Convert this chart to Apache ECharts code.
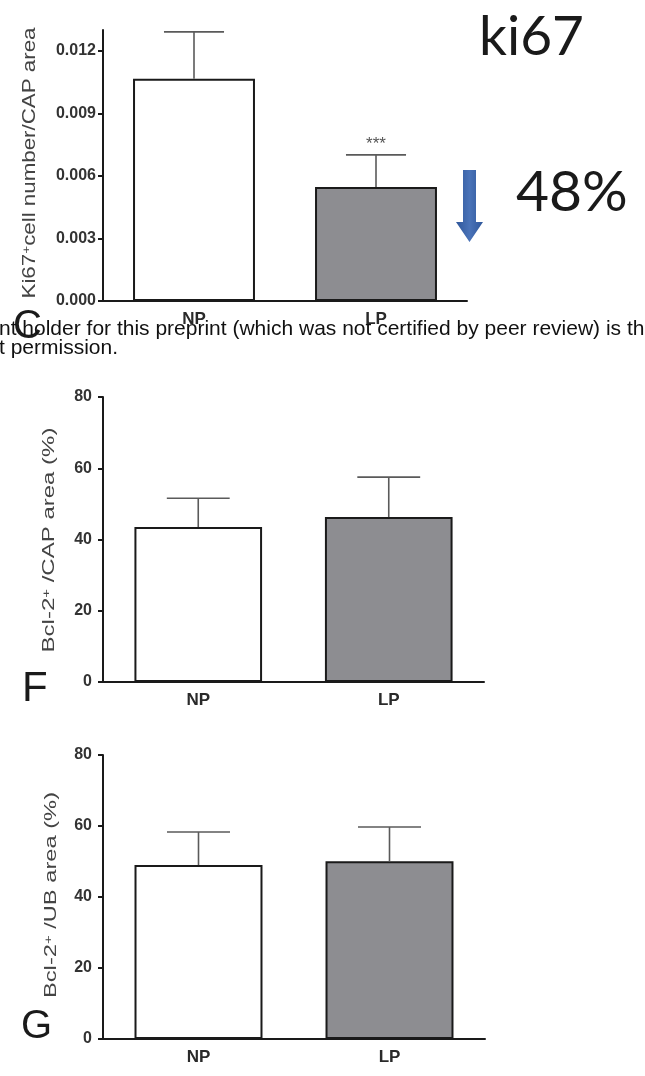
<!DOCTYPE html>
<html><head><meta charset="utf-8">
<script src="https://cdn.jsdelivr.net/npm/echarts@6/dist/echarts.min.js"></script>
<style>html,body{margin:0;padding:0;background:#fff}#c{width:645px;height:1076px}</style>
</head><body><div id="c"></div>
<script>
// ---- data ----
const categories = ['NP', 'LP'];
const ki67Mean = [0.01066, 0.00547];
const ki67Upper = [0.01291, 0.00701];
const ki67Sig = ['', '***'];
const ki67Ticks = [0, 0.003, 0.006, 0.009, 0.012];
const capMean = [43.5, 46.3];
const capUpper = [51.6, 57.5];
const ubMean = [49.0, 50.1];
const ubUpper = [58.3, 59.7];
const pctTicks = [0, 20, 40, 60, 80];
const barColors = ['#ffffff', '#8d8d91'];

const FONT = 'Liberation Sans, Arial, sans-serif';
const chart = echarts.init(document.getElementById('c'), null, {renderer: 'canvas'});

function xAxisCfg(gi) {
  return {
    type: 'category', gridIndex: gi, data: categories,
    axisLine: {lineStyle: {color: '#1a1a1a', width: 2}},
    axisTick: {alignWithLabel: true, length: 5, lineStyle: {color: '#1a1a1a', width: 2}},
    axisLabel: {fontFamily: FONT, fontWeight: 'bold', fontSize: 17, color: '#2a2a2a', margin: 10},
    splitLine: {show: false}
  };
}
function yAxisCfg(gi, max, ticks, fmt, margin) {
  return {
    type: 'value', gridIndex: gi, min: 0, max: max,
    axisLine: {show: true, lineStyle: {color: '#1a1a1a', width: 2}},
    axisTick: {show: true, length: 5, lineStyle: {color: '#1a1a1a', width: 2}, customValues: ticks},
    axisLabel: {fontFamily: FONT, fontWeight: 'bold', fontSize: 16, color: '#333', margin: margin,
      customValues: ticks, formatter: fmt},
    splitLine: {show: false}
  };
}
function barSeries(gi, means) {
  return {
    type: 'bar', xAxisIndex: gi, yAxisIndex: gi, barWidth: '67%',
    data: means.map((v, i) => ({value: v, itemStyle: {color: barColors[i]}})),
    itemStyle: {borderColor: '#1a1a1a', borderWidth: 2},
    silent: true, z: 2
  };
}
function errSeries(gi, means, uppers, sig) {
  return {
    type: 'custom', xAxisIndex: gi, yAxisIndex: gi, z: 3, clip: false, silent: true,
    data: means.map((v, i) => [i, v, uppers[i]]),
    encode: {x: 0, y: [1, 2]},
    renderItem: function (params, api) {
      const idx = api.value(0);
      const top = api.coord([idx, api.value(1)]);
      const up = api.coord([idx, api.value(2)]);
      const half = api.size([1, 0])[0] * 0.165;
      const st = {stroke: '#5a5a5a', lineWidth: 1.6};
      const children = [
        {type: 'line', shape: {x1: top[0], y1: top[1], x2: up[0], y2: up[1]}, style: st},
        {type: 'line', shape: {x1: up[0] - half, y1: up[1], x2: up[0] + half, y2: up[1]}, style: st}
      ];
      if (sig && sig[params.dataIndex]) {
        children.push({type: 'text', x: up[0], y: up[1] - 11,
          style: {text: sig[params.dataIndex], align: 'center', verticalAlign: 'middle',
            fontSize: 17, fontFamily: FONT, fill: '#555'}});
      }
      return {type: 'group', children: children};
    }
  };
}

function rotTitle(text, cx, cy, fs, sx) {
  return {
    type: 'text', x: cx, y: cy, rotation: Math.PI / 2, scaleX: sx, silent: true,
    style: {text: text, align: 'center', verticalAlign: 'middle', fontFamily: FONT, fontSize: fs, fill: '#444',
      rich: {
        n: {fontFamily: FONT, fontSize: fs, fill: '#444'},
        s: {fontFamily: FONT, fontSize: Math.round(fs * 0.6), fill: '#444', verticalAlign: 'top', lineHeight: fs}
      }}
  };
}

const option = {
  backgroundColor: '#ffffff',
  animation: false,
  grid: [
    {left: 103, top: 30, width: 364, height: 271, containLabel: false, outerBoundsMode: 'none'},
    {left: 103, top: 397, width: 381, height: 285, containLabel: false, outerBoundsMode: 'none'},
    {left: 103, top: 755, width: 382, height: 284, containLabel: false, outerBoundsMode: 'none'}
  ],
  xAxis: [xAxisCfg(0), xAxisCfg(1), xAxisCfg(2)],
  yAxis: [
    yAxisCfg(0, 0.013, ki67Ticks, v => Number(v).toFixed(3), 7),
    yAxisCfg(1, 80, pctTicks, v => String(v), 11),
    yAxisCfg(2, 80, pctTicks, v => String(v), 11)
  ],
  series: [
    barSeries(0, ki67Mean), errSeries(0, ki67Mean, ki67Upper, ki67Sig),
    barSeries(1, capMean), errSeries(1, capMean, capUpper, null),
    barSeries(2, ubMean), errSeries(2, ubMean, ubUpper, null)
  ],
  graphic: [
    rotTitle('{n|Ki67}{s|+}{n|cell number/CAP area}', 30, 163, 18, 1.24),
    rotTitle('{n|Bcl-2}{s|+}{n| /CAP area (%)}', 50, 540, 16, 1.5),
    rotTitle('{n|Bcl-2}{s|+}{n| /UB area (%)}', 52, 895, 16, 1.48),
    {type: 'text', x: 479, y: 37, silent: true,
      style: {text: 'ki67', fontFamily: 'Lato, sans-serif', fontSize: 55, fill: '#1a1a1a', align: 'left', verticalAlign: 'middle'}},
    {type: 'text', x: 516, y: 193, silent: true,
      style: {text: '48%', fontFamily: 'Lato, sans-serif', fontSize: 57, fill: '#1a1a1a', align: 'left', verticalAlign: 'middle'}},
    {type: 'polygon', silent: true,
      shape: {points: [[463, 170], [476, 170], [476, 222], [483, 222], [469.5, 242], [456, 222], [463, 222]]},
      style: {fill: new echarts.graphic.LinearGradient(0, 0, 1, 0, [
        {offset: 0, color: '#2f579b'}, {offset: 0.5, color: '#4a73b8'}, {offset: 1, color: '#2f579b'}])}},
    {type: 'text', x: 13, y: 327, silent: true,
      style: {text: 'C', fontFamily: FONT, fontSize: 40, fill: '#1a1a1a', align: 'left', verticalAlign: 'middle'}},
    {type: 'text', x: 22, y: 689, silent: true,
      style: {text: 'F', fontFamily: FONT, fontSize: 42, fill: '#1a1a1a', align: 'left', verticalAlign: 'middle'}},
    {type: 'text', x: 21, y: 1027, silent: true,
      style: {text: 'G', fontFamily: FONT, fontSize: 40, fill: '#1a1a1a', align: 'left', verticalAlign: 'middle'}},
    {type: 'text', x: -1, y: 329, silent: true,
      style: {text: 'nt holder for this preprint (which was not certified by peer review) is th', fontFamily: FONT, fontSize: 21, fill: '#111', align: 'left', verticalAlign: 'middle'}},
    {type: 'text', x: -1, y: 348, silent: true,
      style: {text: 't permission.', fontFamily: FONT, fontSize: 21, fill: '#111', align: 'left', verticalAlign: 'middle'}}
  ]
};
chart.setOption(option);
</script>
</body></html>
